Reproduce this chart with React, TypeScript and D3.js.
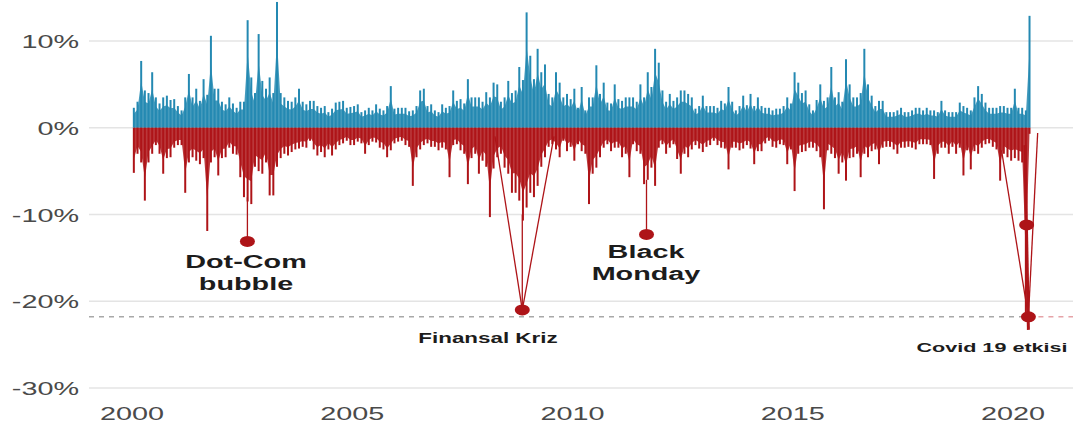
import React from "react";
import * as d3 from "d3";

// monthly extremes of weekly returns (%)
const up2000 = [2.3, 3.0, 7.7, 4.3, 4.0, 6.4, 3.5, 2.8, 3.5, 3.7, 3.2, 3.3];
const down2000 = [-5.2, -3.0, -4.0, -8.4, -4.0, -3.0, -2.0, -3.0, -5.3, -3.5, -3.4, -2.3];
const up2001 = [2.5, 2.0, 3.5, 6.2, 3.5, 4.5, 3.1, 5.6, 3.8, 10.6, 4.5, 4.5];
const down2001 = [-2.0, -2.0, -7.5, -4.0, -3.4, -3.8, -4.2, -3.5, -11.9, -4.0, -3.4, -5.5];
const up2002 = [3.0, 2.7, 3.5, 2.8, 2.3, 3.0, 3.0, 12.4, 5.8, 4.0, 10.8, 5.4];
const down2002 = [-3.5, -3.4, -2.3, -3.0, -3.1, -5.7, -8.0, -8.5, -8.8, -4.5, -5.0, -5.3];
const up2003 = [4.5, 5.8, 4.0, 14.5, 4.0, 3.5, 3.1, 3.0, 3.5, 4.5, 3.0, 2.7];
const down2003 = [-4.0, -7.8, -7.8, -4.5, -3.5, -3.0, -3.2, -2.8, -2.5, -2.4, -2.2, -2.3];
const up2004 = [3.1, 3.1, 2.5, 2.3, 2.5, 1.8, 2.2, 2.9, 3.0, 3.1, 2.3, 2.4];
const down2004 = [-1.5, -2.5, -3.2, -2.8, -3.4, -2.5, -3.2, -2.5, -2.0, -1.8, -1.5, -2.0];
const up2005 = [2.5, 2.7, 1.8, 2.0, 2.3, 2.0, 2.7, 2.2, 2.0, 2.5, 4.8, 2.2];
const down2005 = [-2.0, -1.6, -1.8, -3.0, -2.0, -1.6, -1.7, -2.3, -2.5, -3.4, -2.6, -1.8];
const up2006 = [2.3, 2.3, 2.3, 1.9, 2.0, 2.5, 4.3, 4.5, 2.5, 2.7, 2.0, 1.8];
const down2006 = [-1.6, -1.5, -2.0, -2.2, -6.7, -3.4, -2.5, -2.0, -1.8, -2.2, -2.2, -2.6];
const up2007 = [2.7, 2.3, 2.5, 4.3, 3.1, 3.3, 2.8, 5.6, 3.5, 3.5, 3.5, 3.0];
const down2007 = [-2.3, -2.5, -5.7, -2.0, -1.9, -2.6, -3.0, -6.5, -3.5, -3.0, -5.3, -3.8];
const up2008 = [4.1, 3.5, 5.2, 5.0, 3.0, 3.5, 5.4, 4.0, 4.3, 7.0, 5.5, 13.3];
const down2008 = [-4.5, -10.3, -4.7, -3.4, -3.0, -4.6, -5.3, -7.5, -7.5, -8.4, -10.7, -9.2];
const up2009 = [8.3, 5.6, 9.1, 6.4, 7.3, 3.9, 3.5, 6.4, 5.2, 3.5, 3.9, 3.3];
const down2009 = [-7.5, -8.0, -6.7, -4.5, -3.4, -2.2, -1.9, -2.5, -3.4, -1.5, -2.7, -2.2];
const up2010 = [4.5, 2.3, 4.7, 2.0, 3.5, 3.5, 7.2, 3.9, 5.2, 2.9, 2.8, 5.0];
const down2010 = [-3.8, -1.9, -2.7, -3.0, -8.8, -5.3, -4.6, -3.4, -2.3, -1.9, -2.7, -2.3];
const up2011 = [3.3, 3.1, 3.5, 3.5, 3.5, 3.0, 5.0, 3.5, 6.4, 4.7, 9.1, 7.5];
const down2011 = [-2.3, -3.4, -3.0, -5.7, -1.9, -2.7, -3.0, -6.5, -6.0, -4.6, -6.7, -2.3];
const up2012 = [4.3, 3.0, 3.9, 3.1, 3.5, 4.3, 4.3, 3.9, 3.5, 2.2, 2.5, 3.7];
const down2012 = [-1.9, -3.0, -2.3, -1.9, -3.6, -5.3, -3.0, -3.4, -2.5, -2.0, -2.4, -2.8];
const up2013 = [2.5, 2.5, 2.5, 2.3, 3.1, 2.8, 4.7, 3.0, 2.0, 2.5, 3.7, 2.6];
const down2013 = [-2.2, -2.0, -1.5, -2.0, -2.3, -2.4, -4.8, -2.3, -2.3, -2.6, -2.4, -2.0];
const up2014 = [3.9, 2.5, 3.5, 2.5, 2.3, 2.3, 2.0, 2.2, 2.2, 2.5, 3.5, 2.8];
const down2014 = [-2.4, -4.2, -2.7, -2.7, -1.8, -1.5, -2.2, -2.3, -1.9, -2.0, -4.2, -2.5];
const up2015 = [6.4, 5.2, 4.0, 4.3, 2.7, 2.0, 3.2, 5.0, 3.1, 3.5, 7.0, 3.5];
const down2015 = [-7.3, -3.0, -2.8, -2.7, -2.3, -2.3, -2.7, -3.4, -9.4, -2.6, -3.0, -3.5];
const up2016 = [4.1, 3.0, 7.9, 5.0, 3.5, 3.5, 4.0, 9.1, 5.0, 3.7, 2.5, 3.1];
const down2016 = [-5.3, -4.0, -6.1, -3.5, -3.4, -3.0, -5.7, -3.0, -3.4, -2.7, -2.5, -4.2];
const up2017 = [3.1, 1.8, 1.8, 1.8, 2.0, 2.3, 1.8, 1.8, 2.0, 2.3, 2.3, 2.0];
const down2017 = [-2.3, -2.2, -2.2, -2.5, -3.0, -2.3, -2.3, -2.2, -2.3, -2.5, -1.9, -1.9];
const up2018 = [2.3, 2.0, 2.0, 1.8, 3.1, 2.0, 1.8, 1.8, 1.8, 2.9, 2.5, 2.3];
const down2018 = [-1.9, -2.0, -5.9, -3.0, -2.3, -2.3, -3.0, -2.2, -3.0, -2.3, -5.5, -2.6];
const up2019 = [2.0, 3.5, 4.8, 3.9, 2.9, 2.3, 2.3, 2.3, 2.5, 2.5, 2.3, 2.3];
const down2019 = [-4.8, -2.7, -3.0, -2.3, -1.9, -1.8, -2.2, -2.5, -6.1, -3.0, -3.4, -3.8];
const up2020 = [4.5, 2.3, 2.3, 2.0, 12.9];
const down2020 = [-3.5, -3.8, -4.0, -21.8, -0.7];

const upYears = [up2000, up2001, up2002, up2003, up2004, up2005, up2006, up2007, up2008, up2009, up2010,
  up2011, up2012, up2013, up2014, up2015, up2016, up2017, up2018, up2019, up2020];
const downYears = [down2000, down2001, down2002, down2003, down2004, down2005, down2006, down2007, down2008,
  down2009, down2010, down2011, down2012, down2013, down2014, down2015, down2016, down2017, down2018,
  down2019, down2020];

const yTicks = [10, 0, -10, -20, -30];
const xTicks = [2000, 2005, 2010, 2015, 2020];
const threshold = -21.8;

// annotated points (decimal year, %)
const eventDots = [
  [2002.62, -13.1],
  [2008.86, -21.0],
  [2011.68, -12.3],
  [2020.31, -11.2],
  [2020.35, -21.8],
];
// connector segments: [year1, value1, year2, value2]
const eventLinks = [
  [2002.62, -8.0, 2002.62, -13.1],
  [2008.24, -1.0, 2008.86, -21.0],
  [2008.86, -10.0, 2008.86, -21.0],
  [2009.58, -1.0, 2008.86, -21.0],
  [2011.68, -6.0, 2011.68, -12.3],
  [2019.74, -2.6, 2020.35, -21.8],
  [2020.35, -21.8, 2020.56, -0.6],
  [2020.27, -2.0, 2020.35, -23.3],
];

const W = 1086;
const H = 443;
const BLUE = "#2489b2";
const RED = "#ae1418";
const FONT = "'Liberation Sans', Arial, sans-serif";

type Row = { t: number; up: number; down: number };

const rows: Row[] = [];
upYears.forEach((ups, yi) => {
  ups.forEach((u, mi) => {
    rows.push({ t: 2000 + yi + (mi + 0.5) / 12, up: u, down: downYears[yi][mi] });
  });
});

const x = d3.scaleLinear().domain([2000, 2020]).range([132, 1013]);
const y = d3.scaleLinear().domain([-30, 10]).range([388, 41]);

// body of the mass drawn at a fraction of the monthly extreme, spikes drawn as lines on top
const upArea = d3
  .area<Row>()
  .x((d) => x(d.t))
  .y0(y(0))
  .y1((d) => y(d.up * 0.7));
const downArea = d3
  .area<Row>()
  .x((d) => x(d.t))
  .y0(y(0))
  .y1((d) => y(d.down * 0.7));

const Stretch = ({ px, py, size, bold, anchor, children, fill }: any) => (
  <text
    transform={`translate(${px},${py}) scale(1.6,1)`}
    fontSize={size}
    fontWeight={bold ? 700 : 400}
    textAnchor={anchor}
    fill={fill}
    fontFamily={FONT}
  >
    {children}
  </text>
);

const App = () => {
  const gridX0 = 89;
  const gridX1 = 1073;
  const covidX = x(eventDots[4][0]);
  return (
    <svg width={W} height={H} style={{ position: "absolute", left: 0, top: 0, background: "#fff" }}>
      {yTicks.map((t) => (
        <g key={t}>
          <line x1={gridX0} x2={gridX1} y1={y(t)} y2={y(t)} stroke="#e4e4e4" strokeWidth={1.4} />
          <Stretch px={79} py={y(t) + 7} size={18} anchor="end" fill="#4a4a4a">
            {t}%
          </Stretch>
        </g>
      ))}
      {xTicks.map((t) => (
        <Stretch key={t} px={x(t)} py={420} size={18} anchor="middle" fill="#4a4a4a">
          {t}
        </Stretch>
      ))}

      <line x1={gridX0} x2={covidX} y1={y(threshold)} y2={y(threshold)} stroke="#a8a8a8"
        strokeWidth={1.5} strokeDasharray="5,5" />
      <line x1={covidX} x2={gridX1} y1={y(threshold)} y2={y(threshold)} stroke="#e6a3a8"
        strokeWidth={1.5} strokeDasharray="5,5" />

      <path d={upArea(rows) ?? ""} fill={BLUE} opacity={0.85} />
      {rows.map((d, i) => (
        <line key={"u" + i} x1={x(d.t)} x2={x(d.t)} y1={y(0)} y2={y(d.up)} stroke={BLUE} strokeWidth={2} />
      ))}
      <path d={downArea(rows) ?? ""} fill={RED} opacity={0.85} />
      {rows.map((d, i) => (
        <line key={"d" + i} x1={x(d.t)} x2={x(d.t)} y1={y(0)} y2={y(d.down)} stroke={RED} strokeWidth={2} />
      ))}

      {eventLinks.map((l, i) => (
        <line key={"l" + i} x1={x(l[0])} y1={y(l[1])} x2={x(l[2])} y2={y(l[3])} stroke={RED}
          strokeWidth={i === 7 ? 3 : 1.3} />
      ))}
      {eventDots.map((p, i) => (
        <ellipse key={"p" + i} cx={x(p[0])} cy={y(p[1])} rx={7.5} ry={5.5} fill={RED} />
      ))}

      <Stretch px={246} py={268} size={18} bold anchor="middle" fill="#1c1c1c">Dot-Com</Stretch>
      <Stretch px={246} py={290} size={18} bold anchor="middle" fill="#1c1c1c">bubble</Stretch>
      <Stretch px={646} py={258} size={18} bold anchor="middle" fill="#1c1c1c">Black</Stretch>
      <Stretch px={646} py={280} size={18} bold anchor="middle" fill="#1c1c1c">Monday</Stretch>
      <Stretch px={488} py={343} size={14} bold anchor="middle" fill="#1c1c1c">Finansal Kriz</Stretch>
      <Stretch px={992} py={352} size={13.5} bold anchor="middle" fill="#1c1c1c">Covid 19 etkisi</Stretch>
    </svg>
  );
};

export default App;
